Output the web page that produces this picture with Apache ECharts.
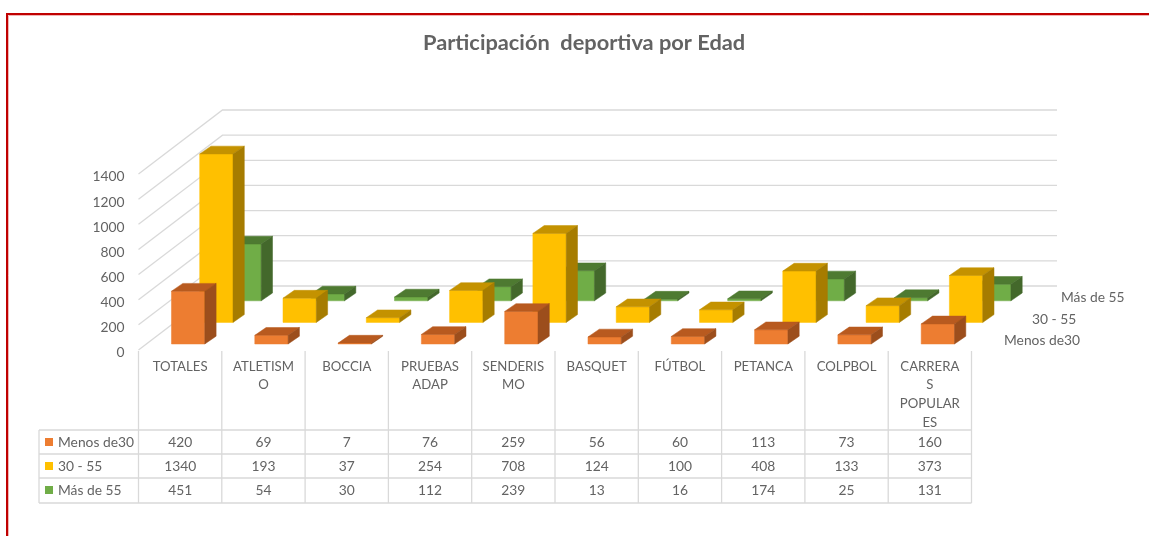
<!DOCTYPE html>
<html>
<head>
<meta charset="utf-8">
<title>Participación deportiva por Edad</title>
<style>
  html, body { margin: 0; padding: 0; background: #fff; }
  #chart { width: 1149px; height: 536px; }
</style>
</head>
<body>
<div id="chart"></div>
<script src="https://cdn.jsdelivr.net/npm/echarts@6/dist/echarts.min.js"></script>
<script>
// categories keep the line breaks of the original data table
const categories = ['TOTALES', 'ATLETISM\nO', 'BOCCIA', 'PRUEBAS\nADAP', 'SENDERIS\nMO', 'BASQUET', 'FÚTBOL', 'PETANCA', 'COLPBOL', 'CARRERA\nS\nPOPULAR\nES'];
const menos30 = [420, 69, 7, 76, 259, 56, 60, 113, 73, 160];
const de30a55 = [1340, 193, 37, 254, 708, 124, 100, 408, 133, 373];
const mas55 = [451, 54, 30, 112, 239, 13, 16, 174, 25, 131];
const seriesNames = ['Menos de30', '30 - 55', 'Más de 55'];
const yTicks = [0, 200, 400, 600, 800, 1000, 1200, 1400];

const FONT = 'Lato, "Open Sans", sans-serif';
const TEXT = '#636363';
const LINE = '#d9d9d9';
const rows = [
  { name: seriesNames[0], values: menos30, front: '#ed7d31', top: '#b85a1f', side: '#9c4e1c', tableY: 442.5, depthX: 1004, depthY: 341 },
  { name: seriesNames[1], values: de30a55, front: '#ffc000', top: '#c49200', side: '#a67c00', tableY: 466.5, depthX: 1032, depthY: 320 },
  { name: seriesNames[2], values: mas55, front: '#70ad47', top: '#4e7a31', side: '#43682b', tableY: 490.5, depthX: 1061, depthY: 298 }
];
const tableLines = [430, 454, 478, 503];

// oblique projection of the depth axis
const WALL_DX = 84, WALL_DY = -64;
const ROW_DX = 28.2, ROW_DY = -21.6;
const BAR_DX = 11.3, BAR_DY = -7.8;

function poly (points, fill) {
  return { type: 'polygon', shape: { points: points }, style: { fill: fill, stroke: fill, lineWidth: 0.5 } };
}

function renderBar (rowIndex, row) {
  return function (params, api) {
    const band = api.size([1, 0])[0];
    const base = api.coord([api.value(0), 0]);
    const head = api.coord([api.value(0), api.value(1)]);
    const w = band * 0.4;
    const x = base[0] - w / 2 + 8 + ROW_DX * rowIndex;
    const off = -6 + ROW_DY * rowIndex;
    const y0 = base[1] + off;
    const y1 = head[1] + off;
    return {
      type: 'group',
      children: [
        poly([[x, y0], [x + w, y0], [x + w, y1], [x, y1]], row.front),
        poly([[x, y1], [x + w, y1], [x + w + BAR_DX, y1 + BAR_DY], [x + BAR_DX, y1 + BAR_DY]], row.top),
        poly([[x + w, y0], [x + w + BAR_DX, y0 + BAR_DY], [x + w + BAR_DX, y1 + BAR_DY], [x + w, y1]], row.side)
      ]
    };
  };
}

function renderWall (params, api) {
  const band = api.size([1, 0])[0];
  const p = api.coord([0, api.value(1)]);
  const x = p[0] - band / 2;
  return {
    type: 'polyline',
    shape: { points: [[x, p[1]], [x + WALL_DX, p[1] + WALL_DY], [x + WALL_DX + 1.5 + band * categories.length, p[1] + WALL_DY]] },
    style: { stroke: LINE, lineWidth: 1.3, fill: null }
  };
}

function renderTableGrid (params, api) {
  const band = api.size([1, 0])[0];
  const i = api.value(0);
  const x = api.coord([i, 0])[0] - band / 2;
  const top = api.coord([i, 0])[1] + 1;
  const bottom = tableLines[tableLines.length - 1];
  const children = [{ type: 'line', shape: { x1: x, y1: top, x2: x, y2: bottom }, style: { stroke: LINE, lineWidth: 1.3 } }];
  if (i === categories.length - 1) {
    children.push({ type: 'line', shape: { x1: x + band, y1: top, x2: x + band, y2: bottom }, style: { stroke: LINE, lineWidth: 1.3 } });
  }
  return { type: 'group', children: children };
}

function renderCell (row) {
  return function (params, api) {
    const x = api.coord([api.value(0), 0])[0];
    return {
      type: 'text',
      style: { text: String(api.value(1)), x: x, y: row.tableY, align: 'center', verticalAlign: 'middle', fill: TEXT, font: '13.8px ' + FONT }
    };
  };
}

function pairs (values) {
  return values.map(function (v, i) { return [i, v]; });
}

const series = [{
  type: 'custom',
  silent: true,
  renderItem: renderWall,
  data: yTicks.map(function (t) { return [0, t]; }),
  encode: { x: 0, y: 1 },
  z: 1
}, {
  type: 'custom',
  silent: true,
  renderItem: renderTableGrid,
  data: pairs(menos30),
  encode: { x: 0, y: 1 },
  z: 1
}];

// back row first so the nearer rows paint over it
for (let r = rows.length - 1; r >= 0; r--) {
  series.push({
    type: 'custom',
    name: rows[r].name,
    renderItem: renderBar(r, rows[r]),
    data: pairs(rows[r].values),
    encode: { x: 0, y: 1 },
    clip: false,
    z: 5
  });
}
rows.forEach(function (row) {
  series.push({
    type: 'custom',
    silent: true,
    renderItem: renderCell(row),
    data: pairs(row.values),
    encode: { x: 0, y: 1 },
    clip: false,
    z: 6
  });
});

const graphic = [
  { type: 'polyline', shape: { points: [[8.5, 536], [8.5, 15.5], [1149, 15.5]] }, style: { stroke: '#f2b5b5', lineWidth: 1, fill: null } },
  { type: 'polyline', shape: { points: [[7, 536], [7, 14], [1149, 14]] }, style: { stroke: '#c00000', lineWidth: 2, fill: null } }
];
tableLines.forEach(function (y) {
  graphic.push({ type: 'line', shape: { x1: 39, y1: y, x2: 971.5, y2: y }, style: { stroke: LINE, lineWidth: 1.3 } });
});
graphic.push({ type: 'line', shape: { x1: 39, y1: tableLines[0], x2: 39, y2: tableLines[3] }, style: { stroke: LINE, lineWidth: 1.3 } });
rows.forEach(function (row) {
  graphic.push({ type: 'rect', shape: { x: 45, y: row.tableY - 4.5, width: 8, height: 8 }, style: { fill: row.front } });
  graphic.push({ type: 'text', style: { text: row.name, x: 58, y: row.tableY, align: 'left', verticalAlign: 'middle', fill: TEXT, font: '13.8px ' + FONT } });
  graphic.push({ type: 'text', style: { text: row.name, x: row.depthX, y: row.depthY, align: 'left', verticalAlign: 'middle', fill: TEXT, font: '13.8px ' + FONT } });
});

const chart = echarts.init(document.getElementById('chart'));
chart.setOption({
  animation: false,
  backgroundColor: '#ffffff',
  title: {
    text: 'Participación  deportiva por Edad',
    left: 418,
    top: 27,
    textStyle: { color: TEXT, fontFamily: FONT, fontWeight: 'bold', fontSize: 21.8 }
  },
  grid: { left: 138.5, width: 833, top: 174, height: 176 },
  xAxis: {
    type: 'category',
    data: categories,
    axisLine: { show: false },
    axisTick: { show: false },
    splitLine: { show: false },
    axisLabel: {
      interval: 0,
      margin: 7,
      color: TEXT,
      fontFamily: FONT,
      fontSize: 13.2,
      lineHeight: 18.7,
      verticalAlign: 'top'
    }
  },
  yAxis: {
    type: 'value',
    min: 0,
    max: 1400,
    interval: 200,
    axisLine: { show: false },
    axisTick: { show: false },
    splitLine: { show: false },
    axisLabel: {
      margin: 14,
      color: TEXT,
      fontFamily: FONT,
      fontSize: 13.8,
      verticalAlign: 'top',
      lineHeight: 6,
      formatter: function (v) { return String(v); }
    }
  },
  graphic: graphic,
  series: series
});
window.addEventListener('resize', function () { chart.resize(); });
</script>
</body>
</html>
